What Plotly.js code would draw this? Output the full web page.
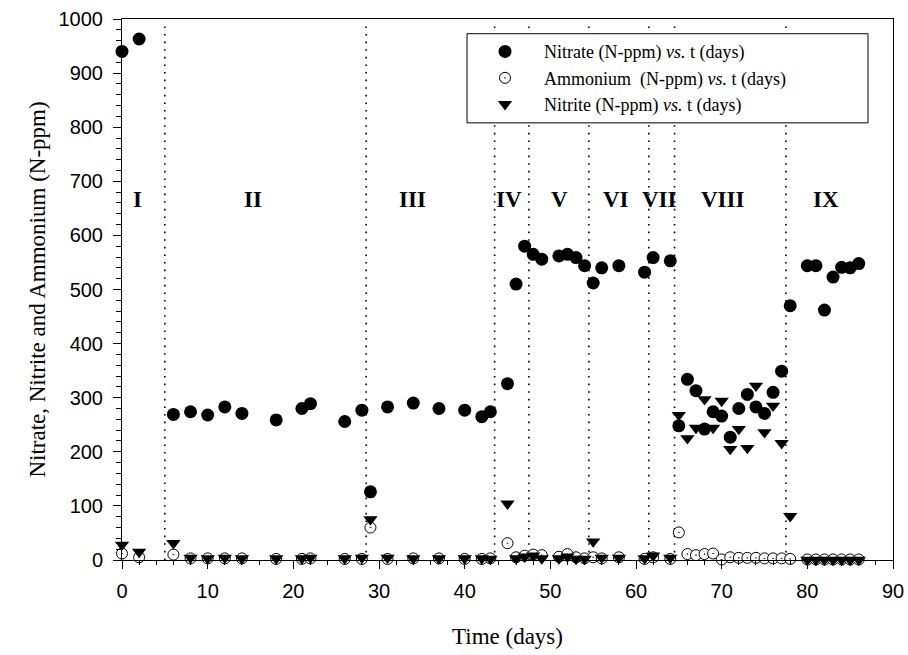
<!DOCTYPE html>
<html>
<head>
<meta charset="utf-8">
<script src="https://cdn.plot.ly/plotly-3.0.1.min.js"></script>
<style>
  html, body { margin: 0; padding: 0; background: #fff; }
  #chart { width: 908px; height: 655px; }
</style>
</head>
<body>
<div id="chart"></div>
<script>
// ---- data ----
const days = [0,2,6,8,10,12,14,18,21,22,
              26,28,29,31,34,37,40,42,43,45,
              46,47,48,49,51,52,53,54,55,56,
              58,61,62,64,65,66,67,68,69,70,
              71,72,73,74,75,76,77,78,80,81,
              82,83,84,85,86];
const nitrate = [940,963,269,274,268,283,271,259,280,289,
                 256,277,126,283,290,280,277,265,274,326,
                 510,580,565,556,562,565,559,544,512,540,
                 544,532,559,553,248,334,313,242,274,266,
                 227,280,306,283,271,310,349,470,544,544,
                 462,523,541,540,548];
const ammonium = [12,5,10,3,3,3,3,2,2,3,
                  2,2,60,2,3,3,2,2,3,31,
                  5,8,10,9,6,11,5,3,5,3,
                  5,2,5,2,51,11,9,11,12,1,
                  5,4,4,4,3,3,3,2,1,1,
                  1,1,1,1,1];
const nitrite = [28,15,31,4,3,4,3,3,3,4,
                 3,4,75,4,3,3,3,3,2,104,
                 3,6,8,3,3,6,2,2,34,4,
                 4,3,8,4,268,225,244,297,244,294,
                 205,242,207,322,236,285,216,81,0,0,
                 0,0,0,0,0];
const seriesNames = [
  'Nitrate (N-ppm) <i>vs.</i> t (days)',
  'Ammonium\u00A0 (N-ppm) <i>vs.</i> t (days)',
  'Nitrite (N-ppm) <i>vs.</i> t (days)'
];
const phaseBoundaries = [5, 28.5, 43.5, 47.5, 54.5, 61.5, 64.5, 77.5];
const phaseLabels = ['I','II','III','IV','V','VI','VII','VIII','IX'];
const phaseLabelX = [1.8, 15.3, 33.9, 45.2, 51.1, 57.7, 62.8, 70.1, 82.2];
const phaseLabelY = 666;

// ---- traces ----
const traces = [
  {
    x: days, y: nitrate, name: seriesNames[0], type: 'scatter', mode: 'markers',
    cliponaxis: false,
    marker: { symbol: 'circle', size: 13, color: '#000', line: { width: 0 } }
  },
  {
    x: days, y: ammonium, name: seriesNames[1], type: 'scatter', mode: 'markers',
    cliponaxis: false,
    marker: { symbol: 'circle-dot', size: 11, color: '#fff', line: { color: '#000', width: 1 } }
  },
  {
    x: days, y: nitrite, name: seriesNames[2], type: 'scatter', mode: 'markers',
    cliponaxis: false,
    marker: { symbol: 'triangle-down', size: 12.5, color: '#000', line: { width: 0 } }
  }
];

// ---- shapes: phase boundaries + legend box ----
const shapes = phaseBoundaries.map(b => ({
  type: 'line', xref: 'x', yref: 'y', x0: b, x1: b, y0: 0, y1: 995,
  line: { color: '#000', width: 1.6, dash: '1.6px,6px' }, layer: 'below'
}));
shapes.push({
  type: 'rect', xref: 'paper', yref: 'paper',
  x0: 0.4475, x1: 0.9676, y0: 0.808, y1: 0.9728,
  line: { color: '#000', width: 1 }, fillcolor: '#fff', layer: 'above'
});

const annotations = phaseLabels.map((t, i) => ({
  x: phaseLabelX[i], y: phaseLabelY, xref: 'x', yref: 'y', text: '<b>' + t + '</b>',
  showarrow: false, xanchor: 'center', yanchor: 'middle',
  font: { family: '"Liberation Serif", "Times New Roman", serif', size: 23, color: '#000' }
}));

const tickFont = { family: '"Liberation Sans", Arial, sans-serif', size: 20, color: '#000' };
const titleFont = { family: '"Liberation Serif", "Times New Roman", serif', size: 23, color: '#000' };

const layout = {
  width: 908, height: 655,
  margin: { l: 122, r: 15, t: 19, b: 95 },
  paper_bgcolor: '#fff', plot_bgcolor: '#fff',
  showlegend: true,
  legend: {
    x: 0.4462, y: 0.8905, xanchor: 'left', yanchor: 'middle',
    bgcolor: 'rgba(0,0,0,0)', borderwidth: 0, itemwidth: 68,
    font: { family: '"Liberation Serif", "Times New Roman", serif', size: 18, color: '#000' }
  },
  xaxis: {
    range: [0, 90], dtick: 10, tick0: 0,
    ticks: 'outside', ticklen: 8, tickwidth: 1, tickcolor: '#000',
    minor: { dtick: 2, ticks: 'outside', ticklen: 4, tickwidth: 1, tickcolor: '#000' },
    showline: true, linecolor: '#000', linewidth: 1, mirror: true,
    showgrid: false, zeroline: false,
    tickfont: tickFont, ticklabelstandoff: 5,
    title: { text: 'Time (days)', font: titleFont, standoff: 26 }
  },
  yaxis: {
    range: [0, 1000], dtick: 100, tick0: 0,
    ticks: 'outside', ticklen: 8, tickwidth: 1, tickcolor: '#000',
    minor: { dtick: 20, ticks: 'outside', ticklen: 5, tickwidth: 1, tickcolor: '#000' },
    showline: true, linecolor: '#000', linewidth: 1, mirror: true,
    showgrid: false, zeroline: false,
    tickfont: tickFont, ticklabelstandoff: 6,
    title: { text: 'Nitrate, Nitrite and Ammonium (N-ppm)', font: titleFont, standoff: 6 }
  },
  shapes: shapes,
  annotations: annotations
};

Plotly.newPlot('chart', traces, layout, { displayModeBar: false, staticPlot: true });
</script>
</body>
</html>
